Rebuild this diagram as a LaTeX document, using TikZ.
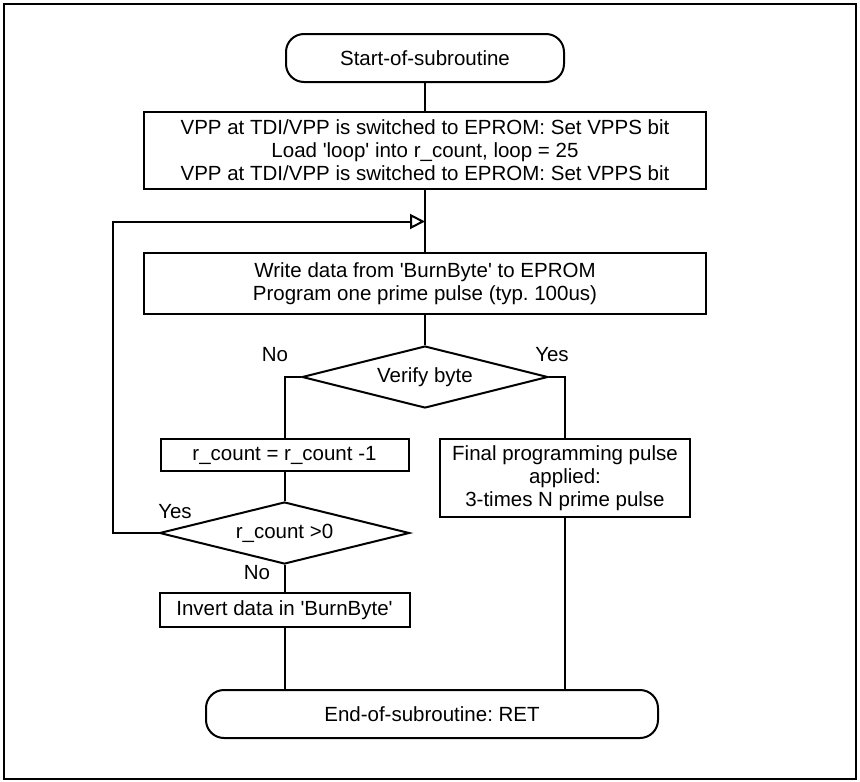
\documentclass[tikz,border=0pt]{standalone}
\usepackage{fontspec}
\setmainfont{Liberation Sans}[Ligatures=TeXOff]
\usetikzlibrary{shapes.geometric,arrows.meta}

\tikzset{
  base/.style={draw=black, line width=2pt, inner sep=0pt, align=center,
    font=\fontsize{20.5pt}{23pt}\selectfont\frenchspacing},
  stepbox/.style={base, rectangle},
  terminal/.style={base, rectangle, rounded corners=18pt},
  decision/.style={base, diamond},
  conn/.style={line width=2pt, black},
  lbl/.style={inner sep=0pt, font=\fontsize{20.5pt}{23pt}\selectfont},
}

\begin{document}
\begin{tikzpicture}[x=1pt, y=-1pt]
  \useasboundingbox (0,0) rectangle (860,782);
  % outer frame
  \draw[line width=2.2pt] (4,4) rectangle (856,779);

  % nodes
  \node[terminal, minimum width=278pt, minimum height=48pt] (start) at (425,58) {Start-of-subroutine};
  \node[stepbox, minimum width=562pt, minimum height=77pt] (init) at (425,150.5)
    {VPP at TDI/VPP is switched to EPROM: Set VPPS bit\\
     Load 'loop' into r\_count, loop = 25\\
     VPP at TDI/VPP is switched to EPROM: Set VPPS bit};
  \node[stepbox, minimum width=562pt, minimum height=61pt] (write) at (425,283.5)
    {Write data from 'BurnByte' to EPROM\\
     Program one prime pulse (typ. 100us)};
  \node[decision, minimum width=246pt, minimum height=62pt, shape aspect=3.97] (verify) at (425,377) {Verify byte};
  \node[stepbox, minimum width=248pt, minimum height=32pt] (dec) at (284.5,455) {r\_count = r\_count -1};
  \node[decision, minimum width=250pt, minimum height=62pt, shape aspect=4.03] (test) at (284.5,533) {r\_count >0};
  \node[stepbox, minimum width=250pt, minimum height=34pt] (invert) at (284.5,610) {Invert data in 'BurnByte'};
  \node[stepbox, minimum width=250pt, minimum height=78pt] (final) at (565,478)
    {Final programming pulse\\ applied:\\ 3-times N prime pulse};
  \node[terminal, minimum width=452pt, minimum height=48pt] (finish) at (432,714) {End-of-subroutine: RET};

  % loop re-entry point on the main line
  \coordinate (loopin) at (425,221.5);
  \coordinate (loopcorner) at (113,221.5);

  % connectors
  \draw[conn] (start) -- (init);
  \draw[conn] (init) -- (write);
  \draw[conn] (write) -- (verify);
  \draw[conn] (verify.west) -| (dec.north);
  \draw[conn] (verify.east) -| (final.north);
  \draw[conn] (dec) -- (test);
  \draw[conn] (test) -- (invert);
  \draw[conn] (invert.south) -- (invert.south |- finish.north);
  \draw[conn] (final.south) -- (final.south |- finish.north);
  \draw[conn, -{Triangle[open, length=15pt, width=15pt, line width=2pt]}]
    (test.west) -| (loopcorner) -- (loopin);

  % branch labels
  \node[lbl] (noA) at (275,355) {No};
  \node[lbl] (yesA) at (552,355) {Yes};
  \node[lbl] (yesB) at (175,512) {Yes};
  \node[lbl] (noB) at (257,573) {No};
\end{tikzpicture}
\end{document}
